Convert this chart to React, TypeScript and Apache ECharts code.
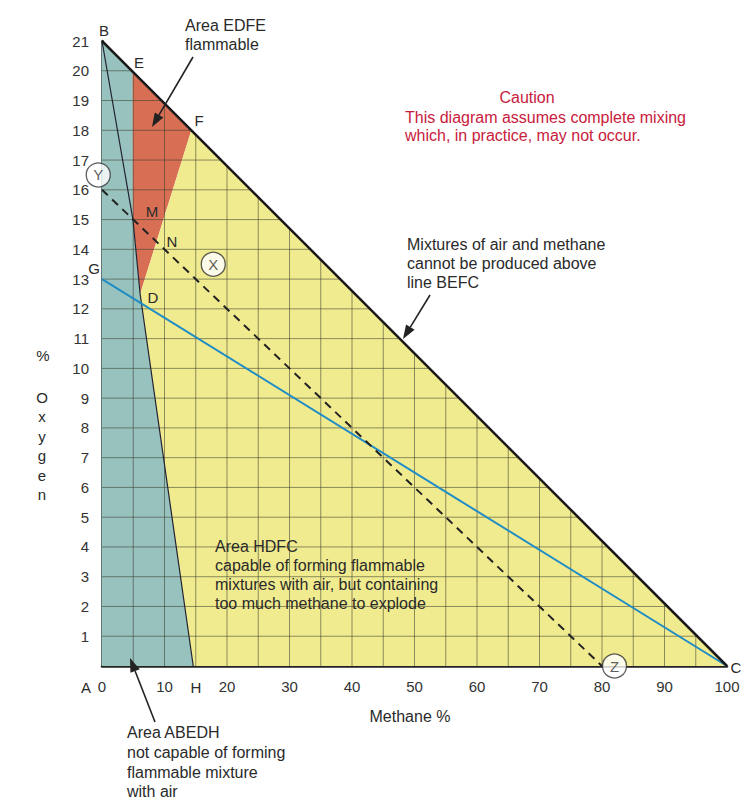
import React, { useEffect, useRef } from "react";
import * as echarts from "echarts";

// Region vertices (methane %, oxygen %)
const pointA = [0, 0];
const pointB = [0, 21];
const pointE = [4.9, 19.97];
const pointKink = [4.95, 15];
const pointD = [6.1, 12.5];
const pointF = [14.3, 18.0];
const pointH = [14.6, 0];
const pointC = [100, 0];
const pointG = [0, 13];
const pointY = [0, 16];
const pointZ = [80, 0];

const tealRegion = [pointA, pointB, pointE, pointKink, pointD, pointH];
const redRegion = [pointE, pointF, pointD, pointKink];
const yellowRegion = [pointD, pointF, pointC, pointH];

const boundaryBEFC = [pointB, pointE, pointF, pointC];
const lineBDH = [pointB, pointKink, pointD, pointH];
const lineGC = [pointG, pointC];
const lineYZ = [pointY, pointZ];

const xTicks = [0, 10, 20, 30, 40, 50, 60, 70, 80, 90, 100];
const yMax = 21;
const xMax = 100;
const gridXStep = 5;
const gridYStep = 1;

// Circled markers (position, label)
const circleMarkers = [
  { name: "Y", value: [-0.6, 16.5] },
  { name: "X", value: [17.8, 13.5] },
  { name: "Z", value: [82, 0] },
];

const FONT = "'Liberation Sans', Arial, Helvetica, sans-serif";

function hypY(x: number) {
  return yMax - (yMax / xMax) * x;
}
function hypX(y: number) {
  return (yMax - y) * (xMax / yMax);
}

function arrow(x1: number, y1: number, x2: number, y2: number) {
  const ang = Math.atan2(y2 - y1, x2 - x1);
  const len = 14;
  const w = 5;
  const bx = x2 - len * Math.cos(ang);
  const by = y2 - len * Math.sin(ang);
  const px = -Math.sin(ang) * w;
  const py = Math.cos(ang) * w;
  return [
    {
      type: "line",
      shape: { x1, y1, x2: bx, y2: by },
      style: { stroke: "#222", lineWidth: 1.6 },
      z: 50,
    },
    {
      type: "polygon",
      shape: {
        points: [
          [x2, y2],
          [bx + px, by + py],
          [bx - px, by - py],
        ],
      },
      style: { fill: "#222" },
      z: 50,
    },
  ];
}

function txt(x: number, y: number, text: string, opts: any = {}) {
  return {
    type: "text",
    x,
    y,
    z: 60,
    style: {
      text,
      fill: opts.fill || "#2a2a2a",
      font: `${opts.size || 16}px ${FONT}`,
      textAlign: opts.align || "left",
      textVerticalAlign: opts.valign || "middle",
      lineHeight: opts.lh || 19,
    },
  };
}

export default function App() {
  const ref = useRef<HTMLDivElement>(null);

  useEffect(() => {
    if (!ref.current) return;
    const chart = echarts.init(ref.current, null, { renderer: "svg" });

    const regions = [
      { pts: tealRegion, color: "#98c2bd" },
      { pts: redRegion, color: "#d86f55" },
      { pts: yellowRegion, color: "#f1eb90" },
    ];

    const gridSegs: number[][][] = [];
    for (let x = gridXStep; x < xMax; x += gridXStep) {
      gridSegs.push([
        [x, 0],
        [x, hypY(x)],
      ]);
    }
    for (let y = gridYStep; y < yMax; y += gridYStep) {
      gridSegs.push([
        [0, y],
        [hypX(y), y],
      ]);
    }

    const yName = ["O", "x", "y", "g", "e", "n"];

    const graphics: any[] = [
      // point letters
      txt(104, 30, "B", { size: 15, align: "center" }),
      txt(139, 62, "E", { size: 15, align: "center" }),
      txt(199, 120, "F", { size: 15, align: "center" }),
      txt(94, 268, "G", { size: 15, align: "center" }),
      txt(153, 297, "D", { size: 15, align: "center" }),
      txt(152, 211, "M", { size: 15, align: "center" }),
      txt(172, 241, "N", { size: 15, align: "center" }),
      txt(86, 687, "A", { size: 15, align: "center" }),
      txt(196, 687, "H", { size: 15, align: "center" }),
      txt(736, 667, "C", { size: 15, align: "center" }),
      // annotations
      txt(185, 16, "Area EDFE\nflammable", { valign: "top" }),
      txt(527, 97, "Caution", { fill: "#c8203c", align: "center" }),
      txt(405, 108, "This diagram assumes complete mixing\nwhich, in practice, may not occur.", {
        fill: "#c8203c",
        valign: "top",
        lh: 18,
      }),
      txt(407, 235, "Mixtures of air and methane\ncannot be produced above\nline BEFC", {
        valign: "top",
      }),
      txt(215, 537, "Area HDFC\ncapable of forming flammable\nmixtures with air, but containing\ntoo much methane to explode", {
        valign: "top",
      }),
      txt(127, 723, "Area ABEDH\nnot capable of forming\nflammable mixture\nwith air", {
        valign: "top",
        lh: 19.7,
      }),
      // axis names
      txt(410, 716, "Methane %", { size: 16, align: "center" }),
      txt(43, 355, "%", { size: 15, align: "center" }),
      ...yName.map((c, i) => txt(42, 397 + i * 19.5, c, { size: 15, align: "center" })),
      // arrows
      ...arrow(193, 57, 152, 127),
      ...arrow(430, 295, 403, 339),
      ...arrow(155, 722, 130, 658),
    ];

    chart.setOption({
      animation: false,
      backgroundColor: "#ffffff",
      grid: { left: 102, right: 23, top: 41, bottom: 141, containLabel: false },
      xAxis: {
        type: "value",
        min: 0,
        max: xMax,
        interval: 10,
        axisLine: { show: true, onZero: false, lineStyle: { color: "#222", width: 2.5 } },
        axisTick: { show: false },
        splitLine: { show: false },
        axisLabel: {
          fontSize: 15,
          color: "#333",
          fontFamily: FONT,
          margin: 13,
          customValues: xTicks,
        },
      },
      yAxis: {
        type: "value",
        min: 0,
        max: yMax,
        interval: 1,
        axisLine: { show: true, onZero: false, lineStyle: { color: "#2d4a48", width: 2.5 } },
        axisTick: { show: false },
        splitLine: { show: false },
        axisLabel: {
          fontSize: 15,
          color: "#333",
          fontFamily: FONT,
          margin: 13,
          formatter: (v: number) => (v === 0 ? "" : String(v)),
        },
      },
      series: [
        {
          type: "custom",
          z: 1,
          silent: true,
          clip: false,
          data: regions.map((_, i) => [i]),
          renderItem: (params: any, api: any) => {
            const r = regions[params.dataIndex];
            return {
              type: "polygon",
              shape: { points: r.pts.map((p) => api.coord(p)) },
              style: { fill: r.color, stroke: "none" },
            };
          },
        },
        {
          type: "custom",
          z: 2,
          silent: true,
          clip: false,
          data: gridSegs.map((_, i) => [i]),
          renderItem: (params: any, api: any) => {
            const s = gridSegs[params.dataIndex];
            const p1 = api.coord(s[0]);
            const p2 = api.coord(s[1]);
            return {
              type: "line",
              shape: { x1: p1[0], y1: p1[1], x2: p2[0], y2: p2[1] },
              style: { stroke: "rgba(55,60,45,0.55)", lineWidth: 1 },
            };
          },
        },
        {
          type: "line",
          z: 3,
          data: lineBDH,
          symbol: "none",
          lineStyle: { color: "#223", width: 1.2 },
          silent: true,
        },
        {
          type: "line",
          z: 4,
          data: lineGC,
          symbol: "none",
          lineStyle: { color: "#1f8cc6", width: 2 },
          silent: true,
        },
        {
          type: "line",
          z: 4,
          data: lineYZ,
          symbol: "none",
          lineStyle: { color: "#222", width: 2, type: [8, 6] },
          silent: true,
        },
        {
          type: "line",
          z: 5,
          data: boundaryBEFC,
          symbol: "none",
          lineStyle: { color: "#1a1a1a", width: 2.5 },
          silent: true,
        },
        {
          type: "scatter",
          z: 10,
          silent: true,
          clip: false,
          data: circleMarkers.map((m) => ({ name: m.name, value: m.value })),
          symbol: "circle",
          symbolSize: 24,
          itemStyle: { color: "#ffffff", borderColor: "#333", borderWidth: 1.3 },
          label: {
            show: true,
            position: "inside",
            formatter: (p: any) => p.name,
            color: "#333",
            fontSize: 15,
            fontFamily: FONT,
          },
        },
      ],
      graphic: graphics,
    });

    return () => chart.dispose();
  }, []);

  return <div ref={ref} style={{ width: 750, height: 807, margin: -8 }} />;
}
